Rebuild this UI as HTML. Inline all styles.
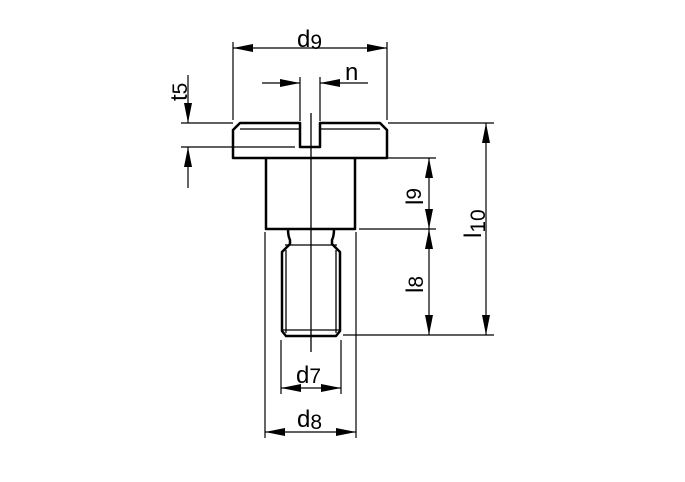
<!DOCTYPE html>
<html><head><meta charset="utf-8"><style>
html,body{margin:0;padding:0;background:#fff;}
svg{display:block;}
text{font-family:"Liberation Sans",sans-serif;fill:#000;}
</style></head><body>
<svg width="685" height="482" viewBox="0 0 685 482" xmlns="http://www.w3.org/2000/svg">
<defs>
<marker id="a" viewBox="0 0 20 8" refX="20" refY="4" markerWidth="20" markerHeight="8" markerUnits="userSpaceOnUse" orient="auto-start-reverse">
<path d="M0,0 L20,4 L0,8 Z" fill="#000"/></marker>
</defs>
<g fill="none" stroke="#000" stroke-width="2.5" stroke-linejoin="round">
<path d="M233,130 L240,123 L300,123 L300,147 L320,147 L320,123 L380,123 L387,130 L387,158 L233,158 Z" fill="#fff"/>
<path d="M266,158 L266,229 L355,229 L355,158"/>
<path d="M288,229 Q288,236 290,240 L290,244 L282,252 L282,331 L286,336 L336,336 L340,331 L340,252 L332,244 L332,240 Q334,236 334,229"/>
</g>
<g fill="none" stroke="#000" stroke-width="1.3">
<line x1="240" y1="129" x2="300" y2="129"/><line x1="320" y1="129" x2="380" y2="129"/>
<line x1="286" y1="250" x2="286" y2="333"/><line x1="336" y1="250" x2="336" y2="333"/>
<line x1="285" y1="245" x2="337" y2="245"/><line x1="283" y1="330" x2="339" y2="330"/>
<line x1="311" y1="113" x2="311" y2="352"/>
</g>
<g fill="none" stroke="#000" stroke-width="1.2">
<line x1="233" y1="42" x2="233" y2="120"/><line x1="387" y1="42" x2="387" y2="120"/>
<line x1="233" y1="48" x2="387" y2="48" marker-start="url(#a)" marker-end="url(#a)"/>
<line x1="300" y1="77" x2="300" y2="121"/><line x1="320" y1="77" x2="320" y2="121"/>
<line x1="262" y1="83" x2="300" y2="83" marker-end="url(#a)"/>
<line x1="368" y1="83" x2="320" y2="83" marker-end="url(#a)"/>
<line x1="181" y1="123" x2="233" y2="123"/><line x1="181" y1="147" x2="295" y2="147"/>
<line x1="188" y1="75" x2="188" y2="123" marker-end="url(#a)"/>
<line x1="188" y1="188" x2="188" y2="147" marker-end="url(#a)"/>
<line x1="388" y1="123" x2="494" y2="123"/>
<line x1="358" y1="158" x2="436" y2="158"/>
<line x1="359" y1="229" x2="436" y2="229"/>
<line x1="343" y1="335" x2="494" y2="335"/>
<line x1="429" y1="158" x2="429" y2="229" marker-start="url(#a)" marker-end="url(#a)"/>
<line x1="429" y1="229" x2="429" y2="335" marker-start="url(#a)" marker-end="url(#a)"/>
<line x1="486" y1="123" x2="486" y2="335" marker-start="url(#a)" marker-end="url(#a)"/>
<line x1="281" y1="340" x2="281" y2="394"/><line x1="341" y1="340" x2="341" y2="394"/>
<line x1="281" y1="388" x2="341" y2="388" marker-start="url(#a)" marker-end="url(#a)"/>
<line x1="265" y1="232" x2="265" y2="438"/><line x1="356" y1="232" x2="356" y2="438"/>
<line x1="265" y1="432" x2="356" y2="432" marker-start="url(#a)" marker-end="url(#a)"/>
</g>
<g font-size="24">
<text x="297" y="47">d<tspan font-size="21" dy="2">9</tspan></text>
<text x="345" y="80">n</text>
<text x="296" y="383">d<tspan font-size="21">7</tspan></text>
<text x="297" y="427">d<tspan font-size="21" dy="2">8</tspan></text>
<text transform="translate(187,101) rotate(-90)">t<tspan font-size="21">5</tspan></text>
<text transform="translate(423,205) rotate(-90)">l<tspan font-size="21" dy="-2">9</tspan></text>
<text transform="translate(423,293) rotate(-90)">l<tspan font-size="21">8</tspan></text>
<text transform="translate(481,238) rotate(-90)">l<tspan font-size="21" dy="4">10</tspan></text>
</g>
</svg>
</body></html>
